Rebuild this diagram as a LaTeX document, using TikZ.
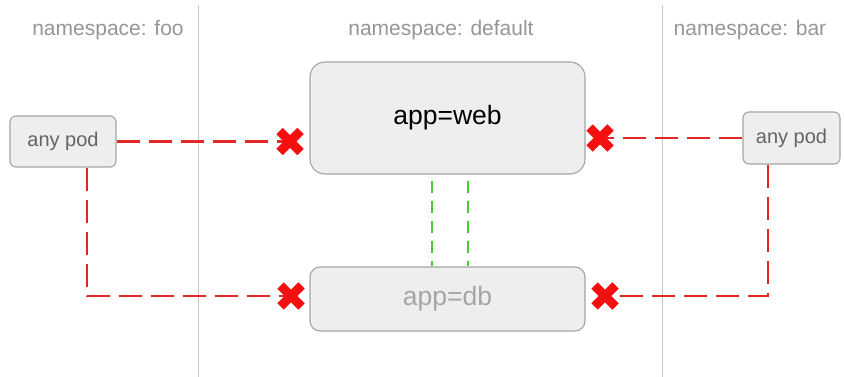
\documentclass[tikz,border=0pt]{standalone}
\usepackage{fontspec}
\setmainfont{Liberation Sans}
\definecolor{boxfill}{RGB}{238,238,238}
\definecolor{boxline}{RGB}{165,165,165}
\definecolor{sepline}{RGB}{200,200,200}
\definecolor{nslabel}{RGB}{150,150,150}
\definecolor{podtext}{RGB}{100,100,100}
\definecolor{dbtext}{RGB}{165,165,165}
\definecolor{xred}{RGB}{245,15,15}
\definecolor{dashred}{RGB}{228,38,38}
\definecolor{dashgreen}{RGB}{70,205,50}
\tikzset{
  podbox/.style={draw=boxline, fill=boxfill, line width=1.1pt, rounded corners=6pt, inner sep=0pt, text=podtext, font=\fontsize{20}{24}\selectfont},
  appbox/.style={draw=boxline, fill=boxfill, line width=1.1pt, inner sep=0pt, font=\fontsize{26.5}{31}\selectfont},
  nstext/.style={text=nslabel, font=\fontsize{21}{25}\selectfont, inner sep=0pt},
  reddash/.style={draw=dashred, line width=2.8pt, dash pattern=on 23pt off 9pt},
  greendash/.style={draw=dashgreen, line width=2.6pt, dash pattern=on 12pt off 8pt},
  xmark/.pic={\draw[xred, line width=9pt] (-10.5,-10.5) -- (10.5,10.5) (-10.5,10.5) -- (10.5,-10.5);}
}
\begin{document}
\begin{tikzpicture}[x=1pt,y=-1pt]
\useasboundingbox (0,0) rectangle (844,377);
\fill[white] (0,0) rectangle (844,377);
% namespace separators
\draw[sepline, line width=1pt] (198,5) -- (198,377);
\draw[sepline, line width=1pt] (662,5) -- (662,377);
% namespace labels
\node[nstext] (nsfoo) at (108,30) {namespace: foo};
\node[nstext] (nsdef) at (441,30) {namespace: default};
\node[nstext] (nsbar) at (750,30) {namespace: bar};
% boxes
\node[podbox, minimum width=106pt, minimum height=51pt] (lpod) at (63,141.5) {any pod};
\node[podbox, minimum width=97pt, minimum height=52pt] (rpod) at (791.5,138) {any pod};
\node[appbox, rounded corners=15pt, minimum width=275pt, minimum height=112pt, text=black] (web) at (447.5,118) {app=web};
\node[appbox, rounded corners=10pt, minimum width=275pt, minimum height=64pt, text=dbtext] (db) at (447.5,299) {app=db};
% X positions
\coordinate (xlt) at (290,141.5);
\coordinate (xlb) at (291,296);
\coordinate (xrt) at (600,138);
\coordinate (xrb) at (605,296);
\coordinate (lcorner) at (87,296);
\coordinate (rcorner) at (768,296);
% red dashed connectors
\draw[reddash] (lpod.east) -- (xlt);
\draw[reddash] (lpod.south -| lcorner) -- (lcorner) -- (xlb);
\draw[reddash] (rpod.west) -- (xrt);
\draw[reddash] (rpod.south -| rcorner) -- (rcorner) -- (xrb);
% green dashed connectors
\draw[greendash] ([xshift=-15.5pt,yshift=-6pt]web.south) -- ([xshift=-15.5pt]db.north);
\draw[greendash] ([xshift=20.5pt,yshift=-6pt]web.south) -- ([xshift=20.5pt]db.north);
% X marks
\pic at (xlt) {xmark};
\pic at (xlb) {xmark};
\pic at (xrt) {xmark};
\pic at (xrb) {xmark};
\end{tikzpicture}
\end{document}
